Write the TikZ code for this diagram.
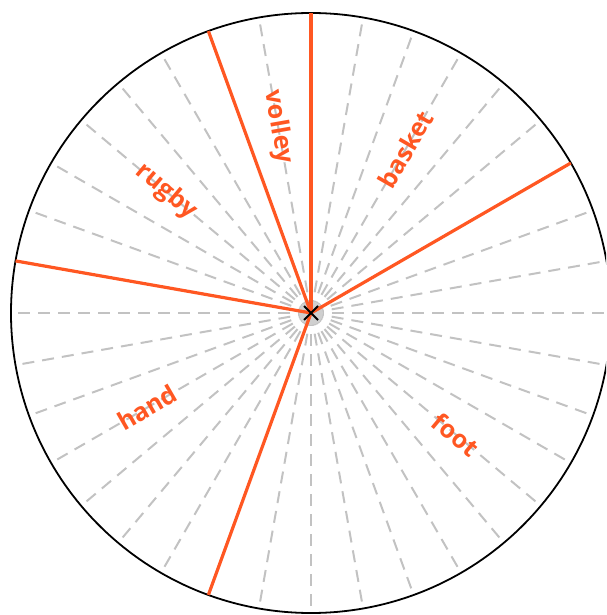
\documentclass[tikz,border=0pt]{standalone}
\usepackage{fontspec}
\setmainfont{Open Sans}
\usepackage{tikz}
\usetikzlibrary{calc}
\definecolor{sliceorange}{HTML}{ff5722}
\definecolor{spokegray}{HTML}{c2c2c2}
\definecolor{hubgray}{HTML}{cfcfcf}
\newcommand{\wheelR}{300}

\begin{document}
\begin{tikzpicture}[x=1pt, y=1pt,
  spoke/.style={spokegray, line width=2pt, dash pattern=on 12pt off 8pt, dash phase=-1pt},
  border/.style={sliceorange, line width=3.2pt},
  slicetext/.style={text=sliceorange, font=\fontsize{25}{27}\selectfont\bfseries, inner sep=0pt}]

\useasboundingbox (-311,-302) rectangle (295,313);
\clip (-311,-302) rectangle (295,313);
\coordinate (hub) at (0,0);

% ---------------- dashed spokes, every 10 degrees ---------------------------
\foreach \a in {0,10,...,350}
  \draw[spoke] (hub) -- (\a:\wheelR);
\fill[hubgray] (hub) circle (12);

% ---------------- rim -------------------------------------------------------
\draw[line width=1.8pt] (hub) circle (\wheelR);

% ---------------- slice borders ---------------------------------------------
\foreach \a in {30,90,110,170,250}
  \draw[border] (hub) -- (\a:\wheelR);

% ---------------- centre mark -----------------------------------------------
\draw[line width=1.8pt] ($(hub)+(-7,-7)$) -- ($(hub)+(7,7)$)
  ($(hub)+(-7,7)$) -- ($(hub)+(7,-7)$);

% ---------------- slice names -----------------------------------------------
\node[slicetext, rotate=60]  (basket) at (60:189)  {basket};
\node[slicetext, rotate=-80] (volley) at (100:189) {volley};
\node[slicetext, rotate=-40] (rugby)  at (140:189) {rugby};
\node[slicetext, rotate=30]  (hand)   at (210:189) {hand};
\node[slicetext, rotate=-40] (foot)   at (320:189) {foot};

\end{tikzpicture}
\end{document}
